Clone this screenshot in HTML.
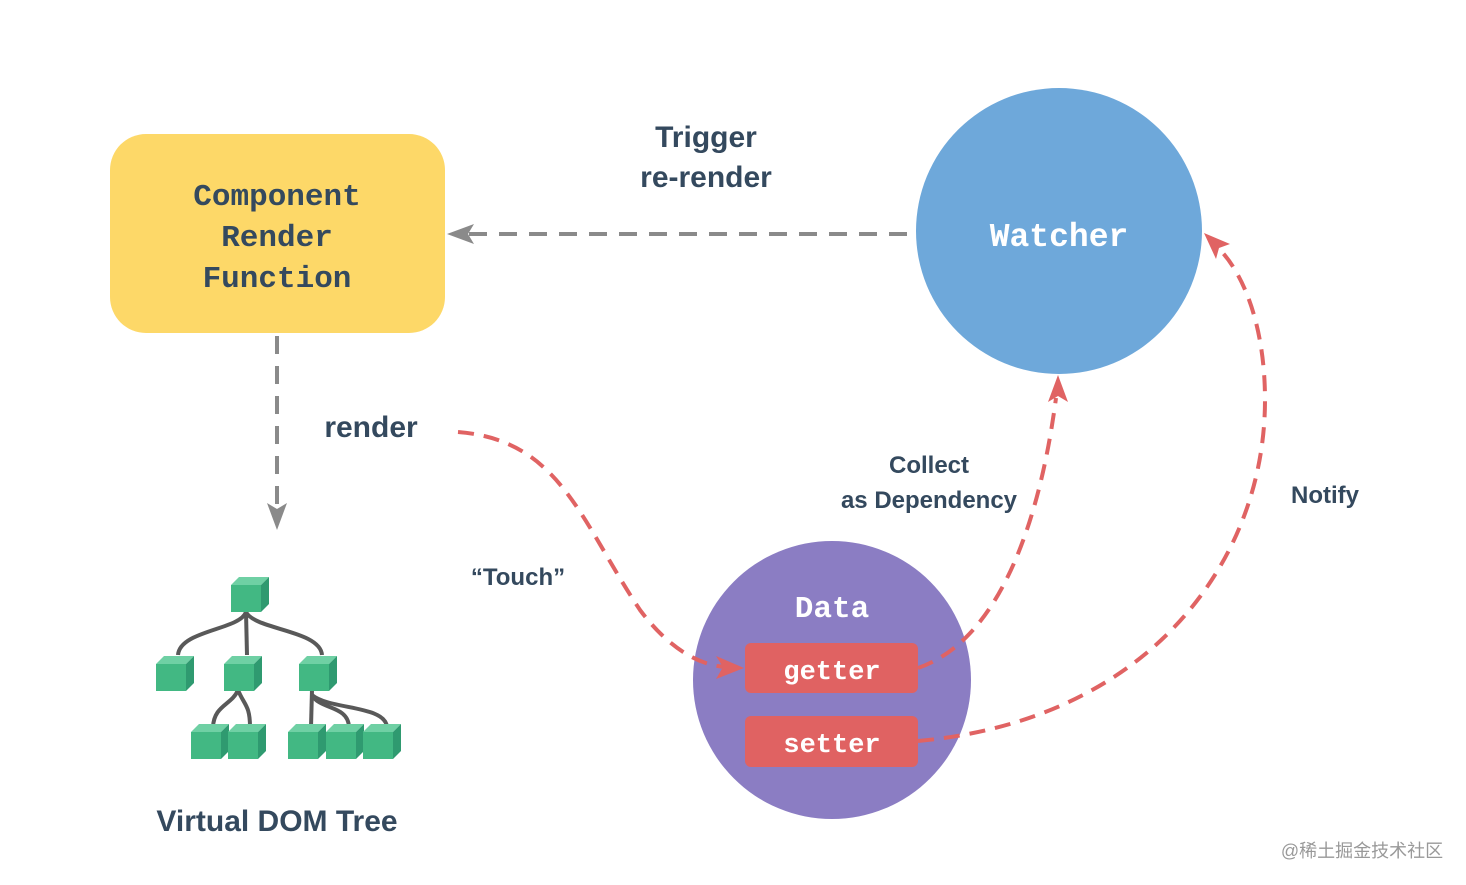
<!DOCTYPE html>
<html><head><meta charset="utf-8"><style>
html,body{margin:0;padding:0;background:#fff;}
svg{display:block}
.m{font-family:"Liberation Mono",monospace;font-weight:bold}
.s{font-family:"Liberation Sans",sans-serif;font-weight:bold;fill:#34495e}
</style></head><body>
<svg width="1466" height="885" viewBox="0 0 1466 885" xmlns="http://www.w3.org/2000/svg">
<defs>
<g id="cube">
<polygon points="0,8 8,0 38,0 30,8" fill="#6fd0a4"/>
<polygon points="30,8 38,0 38,27 30,35" fill="#2f9a70"/>
<rect x="0" y="8" width="30" height="27" fill="#42b883"/>
</g>
</defs>
<rect x="110" y="134" width="335" height="199" rx="36" fill="#fdd868"/>
<text class="m" x="277" y="205" font-size="31" fill="#34495e" text-anchor="middle">Component</text>
<text class="m" x="277" y="246" font-size="31" fill="#34495e" text-anchor="middle">Render</text>
<text class="m" x="277" y="287" font-size="31" fill="#34495e" text-anchor="middle">Function</text>

<circle cx="1059" cy="231" r="143" fill="#6ea8da"/>
<text class="m" x="1059" y="246" font-size="33" fill="#fff" text-anchor="middle">Watcher</text>

<line x1="907" y1="234" x2="468" y2="234" stroke="#8a8a8a" stroke-width="4" stroke-dasharray="18,12"/>
<polygon points="447,234 474,224 468,234 474,244" fill="#8a8a8a"/>
<line x1="277" y1="336" x2="277" y2="505" stroke="#8a8a8a" stroke-width="4" stroke-dasharray="18,12"/>
<polygon points="277,530 267,503 277,509 287,503" fill="#8a8a8a"/>

<circle cx="832" cy="680" r="139" fill="#8b7dc3"/>

<path d="M458,432 C560,440 580,520 640,610 C670,650 700,665 725,667" fill="none" stroke="#e06363" stroke-width="4" stroke-dasharray="16,10"/>
<polygon points="744,668 716,656 723,667 716,679" fill="#e06363"/>
<path d="M918,668 C1000,640 1040,520 1056,398" fill="none" stroke="#e06363" stroke-width="4" stroke-dasharray="16,10"/>
<polygon points="1058,375 1048,402 1058,396 1068,402" fill="#e06363"/>
<path d="M918,741 C1150,720 1265,560 1265,400 C1265,320 1240,270 1220,250" fill="none" stroke="#e06363" stroke-width="4" stroke-dasharray="16,10"/>
<polygon points="1204,233 1230,244 1219,248 1216,259" fill="#e06363"/>

<text class="m" x="832" y="617" font-size="31" fill="#fff" text-anchor="middle">Data</text>
<rect x="745" y="643" width="173" height="50" rx="6" fill="#e06262"/>
<text class="m" x="832" y="679" font-size="27" fill="#fff" text-anchor="middle">getter</text>
<rect x="745" y="716" width="173" height="51" rx="6" fill="#e06262"/>
<text class="m" x="832" y="752" font-size="27" fill="#fff" text-anchor="middle">setter</text>

<text class="s" x="706" y="147" font-size="30" text-anchor="middle">Trigger</text>
<text class="s" x="706" y="187" font-size="30" text-anchor="middle">re-render</text>
<text class="s" x="371" y="437" font-size="30" text-anchor="middle">render</text>
<text class="s" x="518" y="585" font-size="24" text-anchor="middle">“Touch”</text>
<text class="s" x="929" y="473" font-size="24" text-anchor="middle">Collect</text>
<text class="s" x="929" y="508" font-size="24" text-anchor="middle">as Dependency</text>
<text class="s" x="1325" y="503" font-size="24" text-anchor="middle">Notify</text>
<text class="s" x="277" y="831" font-size="30" text-anchor="middle">Virtual DOM Tree</text>
<text x="1362" y="857" font-size="18" fill="#999" text-anchor="middle" font-family="'Liberation Sans','Noto Sans CJK SC',sans-serif">@稀土掘金技术社区</text>

<g fill="none" stroke="#595959" stroke-width="4">
<path d="M246,612 C240,630 180,630 178,655"/>
<path d="M246,612 L247,655"/>
<path d="M246,612 C255,630 320,630 322,655"/>
<path d="M238,690 C232,705 214,705 213,727"/>
<path d="M238,690 C244,705 250,705 250,727"/>
<path d="M312,690 L311,727"/>
<path d="M312,695 C320,710 348,705 349,727"/>
<path d="M312,695 C330,710 385,705 387,727"/>
</g>
<use href="#cube" x="231" y="577"/>
<use href="#cube" x="156" y="656"/>
<use href="#cube" x="224" y="656"/>
<use href="#cube" x="299" y="656"/>
<use href="#cube" x="191" y="724"/>
<use href="#cube" x="228" y="724"/>
<use href="#cube" x="288" y="724"/>
<use href="#cube" x="326" y="724"/>
<use href="#cube" x="363" y="724"/>
</svg>
</body></html>
